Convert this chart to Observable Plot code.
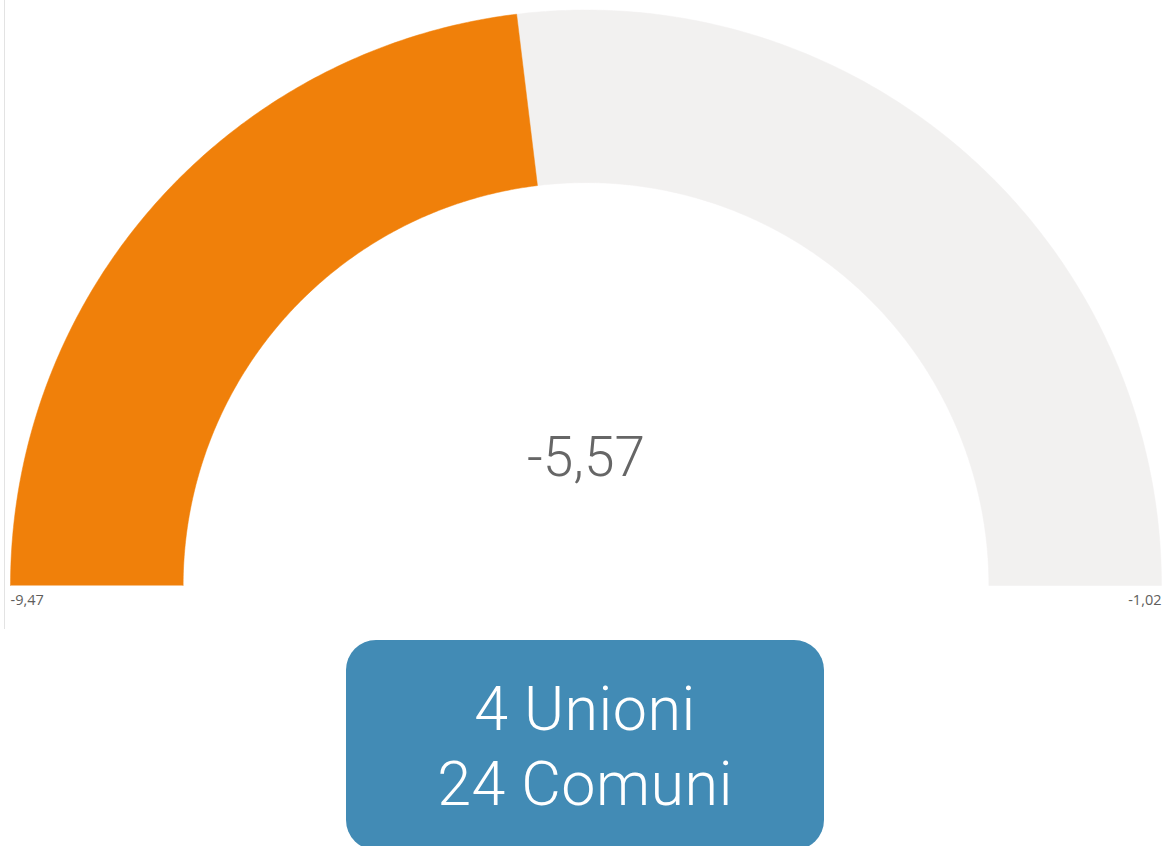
<!DOCTYPE html>
<html>
<head>
<meta charset="utf-8">
<script src="https://cdn.jsdelivr.net/npm/d3@7"></script>
<script src="https://cdn.jsdelivr.net/npm/@observablehq/plot@0.6"></script>
<style>
  html, body { margin: 0; padding: 0; background: #fff; }
  body { width: 1163px; height: 846px; overflow: hidden; position: relative; }
  #chart { position: absolute; left: 0; top: 0; }
  #edge { position: absolute; left: 4px; top: 0; width: 1px; height: 629px; background: #e3e3e3; }
  #box {
    position: absolute; left: 346px; top: 640px; width: 478px; height: 210px;
    background: #428bb5; border-radius: 30px; color: #fff;
    font-family: Roboto, "Noto Sans", sans-serif; font-weight: 300;
    font-size: 61px; line-height: 75px; text-align: center; letter-spacing: 0.5px;
    box-sizing: border-box; padding-top: 32px;
  }
</style>
</head>
<body>
<div id="chart"></div>
<div id="edge"></div>
<div id="box"></div>
<script>
// Data
const minValue = -9.47;
const maxValue = -1.02;
const currentValue = -5.57;
const boxLines = ["4 Unioni", "24 Comuni"];

const fmt = v => v.toFixed(2).replace(".", ",");
const innerRatio = 0.7;

// angle scale: value -> angle (pi on left, 0 on right)
const angle = d3.scaleLinear().domain([minValue, maxValue]).range([Math.PI, 0]);

function sector(v0, v1, key) {
  const a0 = angle(v0), a1 = angle(v1);
  const n = 200;
  const pts = [];
  for (let i = 0; i <= n; i++) {
    const a = a0 + (a1 - a0) * i / n;
    pts.push({x: Math.cos(a), y: Math.sin(a), key});
  }
  for (let i = n; i >= 0; i--) {
    const a = a0 + (a1 - a0) * i / n;
    pts.push({x: innerRatio * Math.cos(a), y: innerRatio * Math.sin(a), key});
  }
  return pts;
}

const filled = sector(minValue, currentValue, "value");
const rest = sector(currentValue, maxValue, "rest");

const plot = Plot.plot({
  width: 1163,
  height: 630,
  margin: 0,
  x: {domain: [-1, 1], range: [10, 1161], axis: null},
  y: {domain: [0, 1], range: [585, 9.5], axis: null},
  style: {background: "transparent", overflow: "visible"},
  marks: [
    Plot.line(rest, {x: "x", y: "y", fill: "#f2f1f0", stroke: "#f2f1f0", strokeWidth: 0.5, curve: "linear"}),
    Plot.line(filled, {x: "x", y: "y", fill: "#f0800a", stroke: "#f0800a", strokeWidth: 0.5, curve: "linear"}),
    Plot.text([currentValue], {
      x: () => 0, y: () => 0.19, text: d => fmt(d),
      textAnchor: "middle", lineAnchor: "bottom",
      fontSize: 55, fill: "#666666", fontWeight: 300,
      fontFamily: "Roboto, 'Noto Sans', sans-serif"
    }),
    Plot.text([minValue], {
      x: () => -1, y: () => 0, text: d => fmt(d),
      textAnchor: "start", lineAnchor: "top", dy: 9,
      fontSize: 14.5, fill: "#605e5c",
      fontFamily: "'Open Sans', 'Noto Sans', sans-serif"
    }),
    Plot.text([maxValue], {
      x: () => 1, y: () => 0, text: d => fmt(d),
      textAnchor: "end", lineAnchor: "top", dy: 9,
      fontSize: 14.5, fill: "#605e5c",
      fontFamily: "'Open Sans', 'Noto Sans', sans-serif"
    })
  ]
});
document.getElementById("chart").appendChild(plot);
document.getElementById("box").innerHTML = boxLines.map(s => `<div>${s}</div>`).join("");
</script>
</body>
</html>
